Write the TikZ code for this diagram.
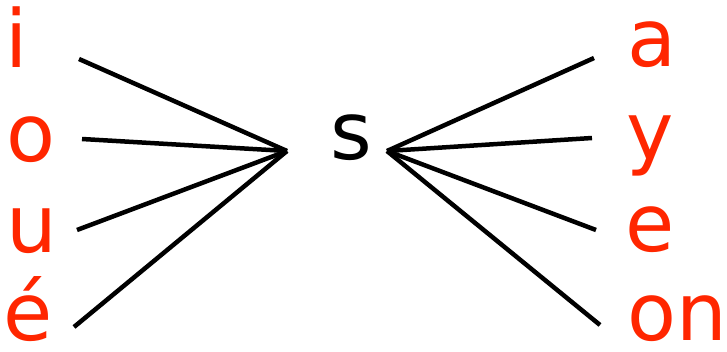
\documentclass[tikz,border=0pt]{standalone}
\usepackage{fontspec}
\setmainfont{DejaVu Sans}
\usepackage{xcolor}
\usepackage{tikz}
\definecolor{vowelred}{RGB}{255,38,0}

\begin{document}
\begin{tikzpicture}[x=1pt,y=-1pt,
  letter/.style={vowelred,anchor=base,inner sep=0pt,font=\fontsize{80}{80}\selectfont},
  hub/.style={anchor=base,inner sep=0pt,font=\fontsize{80}{80}\selectfont},
  link/.style={line width=4.5pt}]
  \useasboundingbox (0,0) rectangle (727,352);
  % left letters
  \node[letter] (i) at (17,68) {i};
  \node[letter] (o) at (31,162) {o};
  \node[letter] (u) at (31.5,253) {u};
  \node[letter] (eacute) at (28,340) {é};
  % right letters
  \node[letter] (a) at (652,67) {a};
  \node[letter] (y) at (650,160) {y};
  \node[letter] (e) at (650,252) {e};
  \node[letter] (on) at (677,340) {on};
  \node[hub] (s) at (351,160) {s};
  % line ends
  \coordinate (lhub) at (287,151);
  \coordinate (rhub) at (387,151);
  \coordinate (i-end) at (79,59);
  \coordinate (o-end) at (82,139);
  \coordinate (u-end) at (77,230);
  \coordinate (eacute-end) at (74,327);
  \coordinate (a-end) at (594,58);
  \coordinate (y-end) at (592,138);
  \coordinate (e-end) at (596,230);
  \coordinate (on-end) at (600,325);
  \foreach \n in {i,o,u,eacute}
    \draw[link] (\n-end) -- (lhub);
  \foreach \n in {a,y,e,on}
    \draw[link] (rhub) -- (\n-end);
\end{tikzpicture}
\end{document}
